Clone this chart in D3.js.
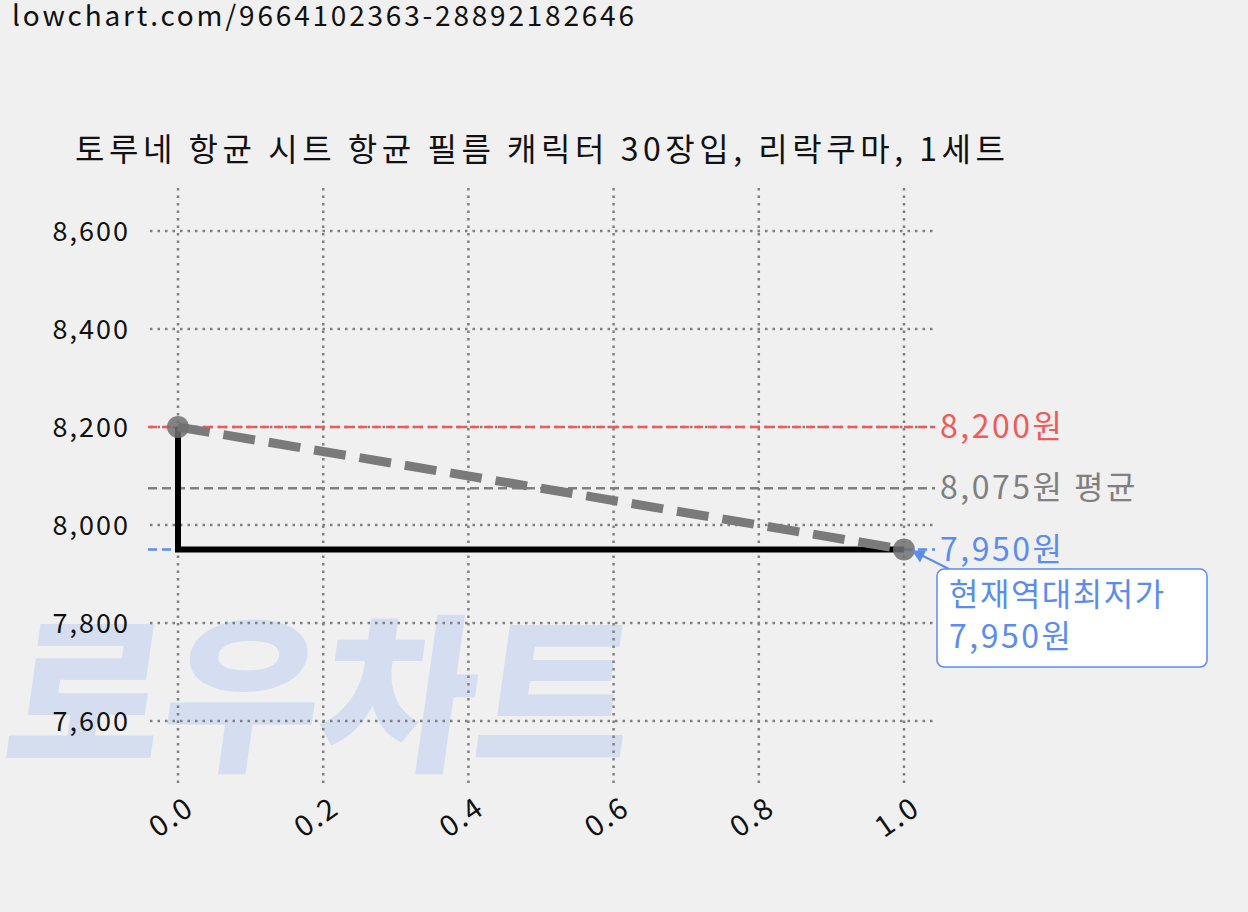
<!DOCTYPE html>
<html><head><meta charset="utf-8">
<script src="https://cdn.jsdelivr.net/npm/d3@7"></script>
<style>
body{margin:0;background:#f0f0f0;font-family:"Noto Sans CJK KR","Noto Sans",sans-serif;}
</style></head>
<body><svg id="chart"></svg>
<script>
const title = "토루네 항균 시트 항균 필름 캐릭터 30장입, 리락쿠마, 1세트";
const url = "lowchart.com/9664102363-28892182646";
const xVals = [0, 1];
const prices = [8200, 7950];
const yTicks = [7600, 7800, 8000, 8200, 8400, 8600];
const xTicks = [0, 0.2, 0.4, 0.6, 0.8, 1.0];
const maxPrice = 8200, avgPrice = 8075, minPrice = 7950;

const svg = d3.select("#chart").attr("width", 1248).attr("height", 912);
svg.append("rect").attr("width", 1248).attr("height", 912).attr("fill", "#f0f0f0");

const x = d3.scaleLinear().domain([0, 1]).range([178, 904]);
const y = d3.scaleLinear().domain([7600, 8600]).range([721, 231]);

// watermark
svg.append("text").attr("x", 0).attr("y", 758)
  .attr("font-size", 170).attr("font-weight", 900).attr("fill", "#d5ddf0")
  .attr("transform", "skewX(-8)").attr("transform-origin", "0 758")
  .text("로우차트");

svg.append("text").attr("x", 12).attr("y", 26).attr("font-size", 28).attr("fill", "#111")
  .attr("textLength", 622).text(url);
svg.append("text").attr("x", 75).attr("y", 161).attr("font-size", 32).attr("fill", "#111")
  .attr("textLength", 930).text(title);

const grid = svg.append("g").attr("stroke", "#808080").attr("stroke-width", 2.5).attr("stroke-dasharray", "2.5,5");
xTicks.forEach(t => grid.append("line").attr("x1", x(t)).attr("x2", x(t)).attr("y1", 188).attr("y2", 785));
yTicks.forEach(t => grid.append("line").attr("x1", 150).attr("x2", 935).attr("y1", y(t)).attr("y2", y(t)));

yTicks.forEach(t => svg.append("text").attr("x", 130).attr("y", y(t) + 10).attr("text-anchor", "end")
  .attr("font-size", 27).attr("letter-spacing", 2).attr("fill", "#111").text(d3.format(",")(t)));
xTicks.forEach(t => svg.append("text").attr("transform", `translate(${x(t) + 18},${812}) rotate(-35)`)
  .attr("text-anchor", "end").attr("font-size", 29).attr("letter-spacing", 2).attr("fill", "#111").text(t.toFixed(1)));

// reference lines
const refs = [[maxPrice, "#f05a5a", d3.format(",")(maxPrice) + "원"],
              [avgPrice, "#808080", d3.format(",")(avgPrice) + "원 평균"],
              [minPrice, "#5b8cf0", d3.format(",")(minPrice) + "원"]];
refs.forEach(([v, c, lbl]) => {
  svg.append("line").attr("x1", 148).attr("x2", 935).attr("y1", y(v)).attr("y2", y(v))
    .attr("stroke", c).attr("stroke-width", 2.5).attr("stroke-dasharray", "9,5");
  svg.append("text").attr("x", 940).attr("y", y(v) + 11).attr("font-size", 32).attr("letter-spacing", 2.5)
    .attr("fill", c).text(lbl);
});

// step line
const step = d3.line().x(d => x(d[0])).y(d => y(d[1])).curve(d3.curveStepAfter);
svg.append("path").datum([[0, prices[0]], [0, prices[1]], [1, prices[1]]]).attr("d", step)
  .attr("fill", "none").attr("stroke", "#000").attr("stroke-width", 6);
svg.append("path").datum(xVals.map((v, i) => [v, prices[i]]))
  .attr("d", d3.line().x(d => x(d[0])).y(d => y(d[1])))
  .attr("fill", "none").attr("stroke", "#7a7a7a").attr("stroke-width", 9).attr("stroke-dasharray", "32,14");
xVals.forEach((v, i) => svg.append("circle").attr("cx", x(v)).attr("cy", y(prices[i])).attr("r", 11)
  .attr("fill", "#707070").attr("fill-opacity", 0.85));

// annotation
const ax = 937, ay = 569;
svg.append("line").attr("x1", ax + 12).attr("y1", ay).attr("x2", x(1) + 12).attr("y2", y(minPrice) + 3)
  .attr("stroke", "#5b8cf0").attr("stroke-width", 2);
svg.append("path").attr("d", `M${x(1) + 8},${y(minPrice) + 1} l14,0 l-6,12 z`).attr("fill", "#5b8cf0");
svg.append("rect").attr("x", ax).attr("y", ay).attr("width", 270).attr("height", 98).attr("rx", 7)
  .attr("fill", "#fff").attr("stroke", "#5b8cf0").attr("stroke-width", 1.5);
svg.append("text").attr("x", ax + 12).attr("y", ay + 37).attr("font-size", 32).attr("letter-spacing", 1.5)
  .attr("fill", "#5b8cf0").text("현재역대최저가");
svg.append("text").attr("x", ax + 12).attr("y", ay + 79).attr("font-size", 32).attr("letter-spacing", 2.5)
  .attr("fill", "#5b8cf0").text(d3.format(",")(minPrice) + "원");
</script></body></html>
